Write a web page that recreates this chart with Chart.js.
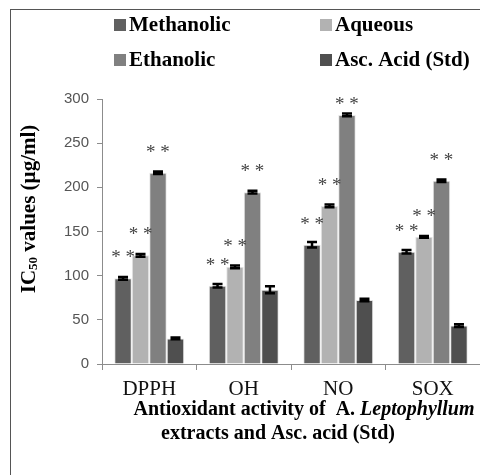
<!DOCTYPE html>
<html>
<head>
<meta charset="utf-8">
<script src="https://cdn.jsdelivr.net/npm/chart.js@4"></script>
<style>
    body { margin: 0; background: #fff; }
    #wrap { position: relative; width: 480px; height: 475px; }
    #frame { position: absolute; left: 10px; top: 9px; right: 0; bottom: 0; border-left: 1px solid #555; border-top: 1px solid #555; }
    canvas { position: absolute; left: 0; top: 0; }
</style>
</head>
<body>
<div id="wrap">
    <div id="frame"></div>
    <canvas id="ic50Chart" width="480" height="475"></canvas>
</div>
<script>
const categories = ['DPPH', 'OH', 'NO', 'SOX'];
const seriesNames = ['Methanolic', 'Aqueous', 'Ethanolic', 'Asc. Acid (Std)'];
const methanolic = [97, 88.5, 135, 127];
const aqueous = [123, 110, 179, 144];
const ethanolic = [216.5, 194.5, 282, 207.5];
const ascAcid = [29, 84, 72.5, 43.5];
const methanolicErr = [1.5, 2, 3, 2];
const aqueousErr = [1.5, 1.5, 1.5, 1];
const ethanolicErr = [1.5, 1.5, 1.5, 1.5];
const ascAcidErr = [1, 4, 1.5, 1.5];
const starMarks = ['**', '**', '**', ''];
const yTicks = [0, 50, 100, 150, 200, 250, 300];

const colors = ['#606060', '#b2b2b2', '#808080', '#4f4f4f'];
const values = [methanolic, aqueous, ethanolic, ascAcid];
const errors = [methanolicErr, aqueousErr, ethanolicErr, ascAcidErr];

const serif = '"Liberation Serif", "Times New Roman", serif';

const extrasPlugin = {
    id: 'extras',
    afterDatasetsDraw(chart) {
        const ctx = chart.ctx;
        const y = chart.scales.y;
        ctx.save();
        chart.data.datasets.forEach((ds, di) => {
            const meta = chart.getDatasetMeta(di);
            meta.data.forEach((bar, i) => {
                const v = ds.data[i];
                const e = errors[di][i];
                const yt = y.getPixelForValue(v + e);
                const yb = y.getPixelForValue(v - e);
                ctx.strokeStyle = '#000';
                ctx.lineWidth = 2.5;
                ctx.beginPath();
                ctx.moveTo(bar.x, yt); ctx.lineTo(bar.x, yb);
                ctx.moveTo(bar.x - 5, yt); ctx.lineTo(bar.x + 5, yt);
                ctx.moveTo(bar.x - 5, yb); ctx.lineTo(bar.x + 5, yb);
                ctx.stroke();
                if (starMarks[di]) {
                    let sy = y.getPixelForValue(v) - 20;
                    sy = Math.max(sy, chart.chartArea.top + 6);
                    ctx.fillStyle = '#444';
                    ctx.font = '19px ' + serif;
                    ctx.textAlign = 'center';
                    ctx.textBaseline = 'middle';
                    ctx.fillText('* *', bar.x, sy);
                }
            });
        });
        ctx.restore();
    },
    afterDraw(chart) {
        const ctx = chart.ctx;
        ctx.save();
        // legend
        const legendPos = [[114, 25], [320, 25], [114, 60], [320, 60]];
        ctx.textBaseline = 'middle';
        ctx.textAlign = 'left';
        ctx.font = 'bold 21px ' + serif;
        seriesNames.forEach((name, i) => {
            const [lx, ly] = legendPos[i];
            ctx.fillStyle = colors[i];
            ctx.fillRect(lx, ly - 6, 12, 12);
            ctx.fillStyle = '#000';
            ctx.fillText(name, lx + 15, ly + 1);
        });

        // y axis title with subscript
        ctx.translate(28, 209);
        ctx.rotate(-Math.PI / 2);
        const big = 'bold 21px ' + serif;
        const small = 'bold 13px ' + serif;
        ctx.font = big;
        const w1 = ctx.measureText('IC').width;
        const w3 = ctx.measureText(' values (µg/ml)').width;
        ctx.font = small;
        const w2 = ctx.measureText('50').width;
        let x0 = -(w1 + w2 + w3) / 2;
        ctx.fillStyle = '#000';
        ctx.textBaseline = 'alphabetic';
        ctx.font = big;
        ctx.fillText('IC', x0, 7);
        ctx.font = small;
        ctx.fillText('50', x0 + w1, 9);
        ctx.font = big;
        ctx.fillText(' values (µg/ml)', x0 + w1 + w2, 7);
        ctx.setTransform(1, 0, 0, 1, 0, 0);

        // x axis title
        ctx.textBaseline = 'middle';
        const a = 'Antioxidant activity of  A. ';
        const b = 'Leptophyllum';
        ctx.font = 'bold 20px ' + serif;
        const wa = ctx.measureText(a).width;
        ctx.font = 'bold italic 20px ' + serif;
        const wb = ctx.measureText(b).width;
        let lx = 304 - (wa + wb) / 2;
        ctx.font = 'bold 20px ' + serif;
        ctx.fillText(a, lx, 410);
        ctx.font = 'bold italic 20px ' + serif;
        ctx.fillText(b, lx + wa, 410);
        ctx.font = 'bold 20px ' + serif;
        ctx.textAlign = 'center';
        ctx.fillText('extracts and Asc. acid (Std)', 278, 434);
        ctx.restore();
    }
};

new Chart(document.getElementById('ic50Chart').getContext('2d'), {
    type: 'bar',
    data: {
        labels: categories,
        datasets: seriesNames.map((name, i) => ({
            label: name,
            data: values[i],
            backgroundColor: colors[i],
            borderColor: '#e6e6e6',
            borderWidth: 1,
            categoryPercentage: 0.74,
            barPercentage: 1
        }))
    },
    options: {
        responsive: false,
        animation: false,
        layout: { padding: { top: 99, right: 0, left: 0, bottom: 0 } },
        plugins: {
            legend: { display: false },
            tooltip: { enabled: false }
        },
        scales: {
            x: {
                afterFit: scale => { scale.height = 111; },
                grid: { drawOnChartArea: false, drawTicks: true, tickLength: 6, color: '#8c8c8c' },
                border: { color: '#8c8c8c' },
                ticks: { color: '#111', padding: 7, font: { size: 21, family: serif } }
            },
            y: {
                min: 0,
                max: 300,
                afterFit: scale => { scale.width = 102; },
                afterBuildTicks: scale => { scale.ticks = yTicks.map(v => ({ value: v })); },
                grid: { drawOnChartArea: false, drawTicks: true, tickLength: 5, color: '#8c8c8c' },
                border: { color: '#8c8c8c' },
                ticks: { color: '#555', padding: 8, font: { size: 15, family: '"Liberation Sans", Arial, sans-serif' } }
            }
        }
    },
    plugins: [extrasPlugin]
});
</script>
</body>
</html>
